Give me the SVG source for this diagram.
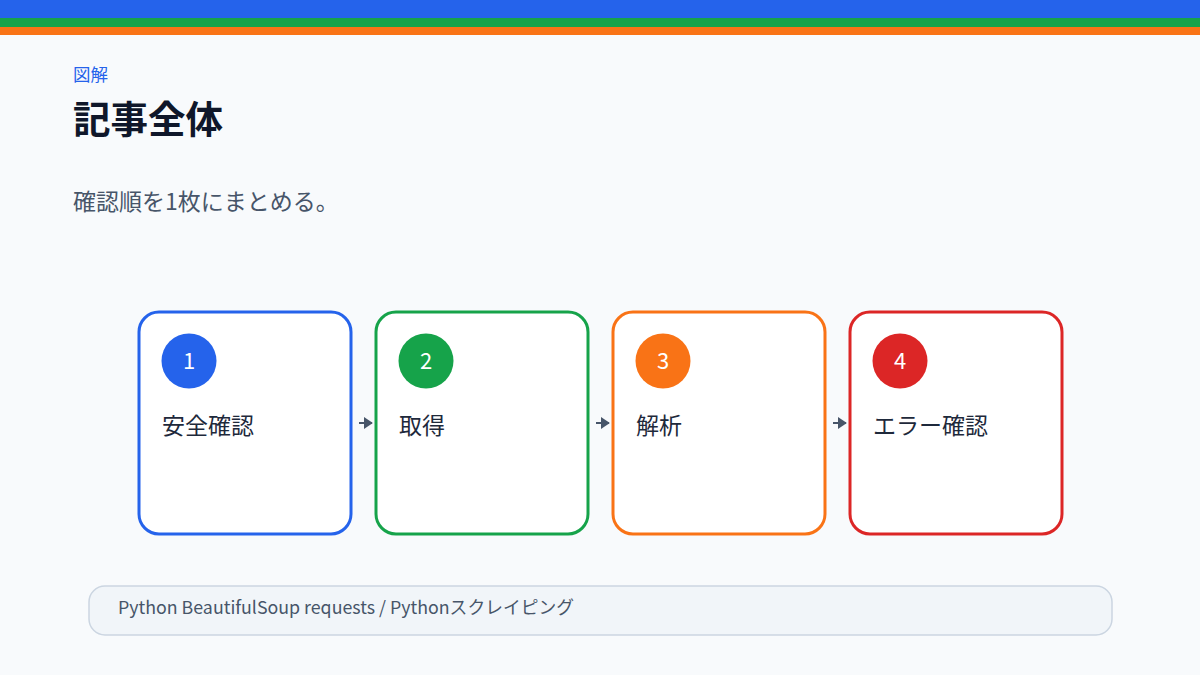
<svg xmlns="http://www.w3.org/2000/svg" width="1200" height="675" viewBox="0 0 1200 675">
<defs>
<style>
text{font-family:"Noto Sans CJK JP","Noto Sans",sans-serif}
.card{fill:#ffffff;stroke-width:3}
.num{fill:#ffffff;font-size:22px;text-anchor:middle}
.lbl{fill:#1e293b;font-size:23px}
.conn{stroke:#475569;stroke-width:2;fill:none}
</style>
<marker id="ah" viewBox="0 0 10 10" refX="9" refY="5" markerWidth="4.5" markerHeight="6" orient="auto" markerUnits="strokeWidth" preserveAspectRatio="none">
<path d="M0,0 L10,5 L0,10 z" fill="#475569"/>
</marker>
</defs>
<rect width="1200" height="675" fill="#f8fafc"/>
<rect x="0" y="0" width="1200" height="18" fill="#2563eb"/>
<rect x="0" y="18" width="1200" height="9" fill="#16a34a"/>
<rect x="0" y="27" width="1200" height="8" fill="#f97316"/>
<text x="73" y="81" font-size="17.5" fill="#2563eb">図解</text>
<text x="73" y="133" font-size="37.5" font-weight="bold" fill="#0f172a">記事全体</text>
<text x="73" y="210" font-size="23" fill="#475569">確認順を1枚にまとめる。</text>
<g id="connectors">
<line class="conn" x1="359" y1="423" x2="372" y2="423" marker-end="url(#ah)"/>
<line class="conn" x1="596" y1="423" x2="609" y2="423" marker-end="url(#ah)"/>
<line class="conn" x1="833" y1="423" x2="846" y2="423" marker-end="url(#ah)"/>
</g>
<g id="node1">
<rect class="card" x="139" y="312" width="212" height="222" rx="20" stroke="#2563eb"/>
<circle cx="189" cy="361" r="27.5" fill="#2563eb"/>
<text class="num" x="189" y="369">1</text>
<text class="lbl" x="162" y="434">安全確認</text>
</g>
<g id="node2">
<rect class="card" x="376" y="312" width="212" height="222" rx="20" stroke="#16a34a"/>
<circle cx="426" cy="361" r="27.5" fill="#16a34a"/>
<text class="num" x="426" y="369">2</text>
<text class="lbl" x="399" y="434">取得</text>
</g>
<g id="node3">
<rect class="card" x="613" y="312" width="212" height="222" rx="20" stroke="#f97316"/>
<circle cx="663" cy="361" r="27.5" fill="#f97316"/>
<text class="num" x="663" y="369">3</text>
<text class="lbl" x="636" y="434">解析</text>
</g>
<g id="node4">
<rect class="card" x="850" y="312" width="212" height="222" rx="20" stroke="#dc2626"/>
<circle cx="900" cy="361" r="27.5" fill="#dc2626"/>
<text class="num" x="900" y="369">4</text>
<text class="lbl" x="873" y="434">エラー確認</text>
</g>
<g id="footer">
<rect x="89" y="586" width="1023" height="49" rx="16" fill="#f1f5f9" stroke="#cbd5e1" stroke-width="1.5"/>
<text x="118" y="614" font-size="17.8" fill="#475569">Python BeautifulSoup requests / Pythonスクレイピング</text>
</g>
</svg>
